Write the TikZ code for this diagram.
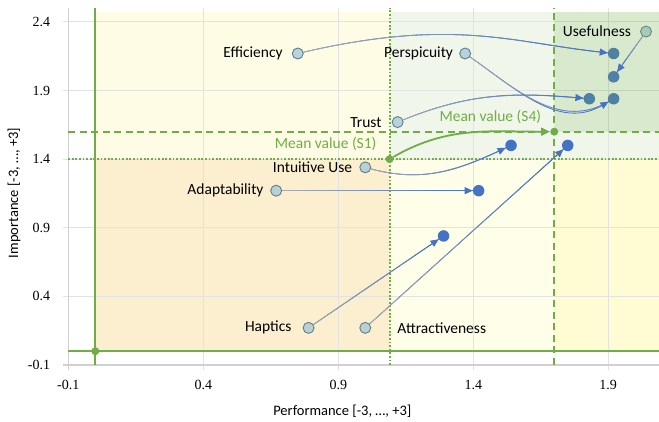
\documentclass[tikz,border=0pt]{standalone}
\usepackage{fontspec}
\setmainfont{Carlito}
\newfontfamily\numfont{Liberation Serif}
\usetikzlibrary{positioning,arrows.meta,decorations.markings}

\definecolor{meangreen}{HTML}{70AD47}
\definecolor{arrblue}{HTML}{4472C4}
\definecolor{arrgrey}{HTML}{A8ABAB}
\definecolor{srcfill}{HTML}{9EC3D6}
\definecolor{srcline}{HTML}{5E7E8C}
\definecolor{gridgrey}{HTML}{E2E2E2}
\definecolor{axisgrey}{HTML}{D0D0D0}
\definecolor{lowleft}{HTML}{FCEFCF}
\definecolor{upleft}{HTML}{FEFCE5}
\definecolor{midband}{HTML}{F0F6EA}
\definecolor{lowmid}{HTML}{FEFEE9}
\definecolor{lowright}{HTML}{FFFBD2}

\tikzset{
  gridline/.style={draw=gridgrey, line width=0.9pt},
  axisline/.style={draw=axisgrey, line width=1.4pt},
  tick/.style={font=\numfont\fontsize{14}{16}\selectfont, inner sep=0pt},
  axtitle/.style={font=\fontsize{14.5}{17}\selectfont, inner sep=0pt},
  meansolid/.style={draw=meangreen, line width=1.6pt},
  meandotted/.style={draw=meangreen, line width=1.9pt, dash pattern=on 1.8pt off 1.8pt},
  meandashed/.style={draw=meangreen, line width=1.9pt, dash pattern=on 7pt off 4.5pt},
  meandot/.style={circle, fill=meangreen, minimum size=8pt, inner sep=0pt},
  src/.style={circle, draw=srcline, fill=srcfill, fill opacity=0.7, line width=0.9pt, minimum size=11pt, inner sep=0pt},
  tgt/.style={circle, fill=arrblue, minimum size=11.5pt, inner sep=0pt},
  lbl/.style={font=\fontsize{15.5}{18}\selectfont, inner sep=0pt},
  meanlbl/.style={lbl, text=meangreen},
  move/.style={draw=arrblue, line width=0.8pt, -{Triangle[length=8pt,width=7pt]},
    postaction={decorate, decoration={markings,
      mark=between positions 0 and 1 step 1.5pt with {
        \pgfmathtruncatemacro\pct{\pgfkeysvalueof{/pgf/decoration/mark info/distance from start}/\pgfdecoratedpathlength*100}
        \draw[-, line width=0.8pt, draw=arrblue!\pct!arrgrey] (0,0) -- (1.9pt,0);}}}},
  meanmove/.style={draw=meangreen, line width=1.8pt, -{Triangle[length=9pt,width=8pt]}},
}

\begin{document}
\begin{tikzpicture}[x=270pt, y=137.2pt]
  \useasboundingbox (-0.353,-0.515) rectangle (2.088,2.560);

  % quadrants
  \fill[lowleft] (0,0) rectangle (1.09,1.4);
  \fill[upleft] (0,1.4) rectangle (1.09,2.47);
  \fill[midband] (1.09,1.4) rectangle (1.7,2.47);
  \fill[midband] (1.7,1.4) rectangle (2.09,1.6);
  \fill[lowmid] (1.09,0) rectangle (1.7,1.4);
  \fill[lowright] (1.7,0) rectangle (2.09,1.4);

  % grid and axes
  \foreach \v in {0.4,0.9,1.4,1.9,2.4}
    \draw[gridline] (-0.119,\v) -- (2.09,\v);
  \foreach \v in {0.4,0.9,1.4,1.9}
    \draw[gridline] (\v,-0.136) -- (\v,2.5);
  \draw[axisline] (-0.1,2.5) -- (-0.1,-0.136);
  \draw[axisline] (-0.119,-0.1) -- (2.09,-0.1);

  % mean lines
  \draw[meansolid] (0,-0.1) -- (0,2.5);
  \draw[meansolid] (-0.1,0) -- (2.09,0);
  \draw[meandotted] (1.09,-0.1) -- (1.09,2.5); % S1
  \draw[meandotted] (-0.1,1.4) -- (2.09,1.4);
  \draw[meandashed] (1.7,-0.1) -- (1.7,2.5); % S4
  \draw[meandashed] (-0.1,1.6) -- (2.09,1.6);

  \node[meandot] (orig) at (0,0) {};
  \node[meandot] (s1) at (1.09,1.4) {};
  \node[meandot] (s4) at (1.7,1.6) {};

  % S1 values
  \node[src] (eff1) at (0.75,2.17) {};
  \node[src] (per1) at (1.37,2.17) {};
  \node[src] (use1) at (2.04,2.33) {};
  \node[src] (tru1) at (1.12,1.67) {};
  \node[src] (int1) at (1.00,1.34) {};
  \node[src] (ada1) at (0.67,1.17) {};
  \node[src] (hap1) at (0.79,0.17) {};
  \node[src] (att1) at (1.00,0.17) {};

  % S4 values
  \node[tgt] (eff4) at (1.92,2.17) {};
  \node[tgt] (per4) at (1.92,1.84) {};
  \node[tgt] (use4) at (1.92,2.00) {};
  \node[tgt] (tru4) at (1.83,1.84) {};
  \node[tgt] (int4) at (1.54,1.50) {};
  \node[tgt] (ada4) at (1.42,1.17) {};
  \node[tgt] (hap4) at (1.29,0.84) {};
  \node[tgt] (att4) at (1.75,1.50) {};

  \fill[meangreen, opacity=0.27] (1.7,1.6) rectangle (2.09,2.47);

  \draw[move] (eff1) to[out=13, in=174, out looseness=1.3, in looseness=0.8] (eff4);
  \draw[move] (per1) to[out=-35, in=-150] (per4);
  \draw[move] (use1) -- (use4);
  \draw[move] (tru1) to[out=22, in=175] (tru4);
  \draw[move] (int1) to[out=-15, in=-155] (int4);
  \draw[move] (ada1) -- (ada4);
  \draw[move] (hap1) -- (hap4);
  \draw[move] (att1) -- (att4);
  \draw[meanmove] (s1) to[out=30, in=180] (s4);

  % labels
  \node[lbl, left=9pt of eff1] (effl) {Efficiency};
  \node[lbl, left=6pt of per1] (perl) {Perspicuity};
  \node[lbl, left=9pt of use1] (usel) {Usefulness};
  \node[lbl, left=10pt of tru1] (trul) {Trust};
  \node[lbl, left=7pt of int1] (intl) {Intuitive Use};
  \node[lbl, left=6.5pt of ada1] (adal) {Adaptability};
  \node[lbl, left=11pt of hap1] (hapl) {Haptics};
  \node[lbl, right=26pt of att1] (attl) {Attractiveness};
  \node[meanlbl, above left=5pt and 10pt of s1] (s1l) {Mean value (S1)};
  \node[meanlbl, above left=5pt and 10pt of s4] (s4l) {Mean value (S4)};

  % ticks and axis titles
  \foreach \v [count=\i] in {-0.1,0.4,0.9,1.4,1.9}
    \node[tick, anchor=north] (xt\i) at ([yshift=-15pt]\v,-0.1) {\v};
  \foreach \v [count=\i] in {-0.1,0.4,0.9,1.4,1.9,2.4}
    \node[tick, anchor=east] (yt\i) at ([xshift=-18pt]-0.1,\v) {\v};

  \node[axtitle] (xtitle) at (0.915,-0.435) {Performance [-3, …, +3]};
  \node[axtitle, rotate=90] (ytitle) at (-0.301,1.154) {Importance [-3, …, +3]};
\end{tikzpicture}
\end{document}
